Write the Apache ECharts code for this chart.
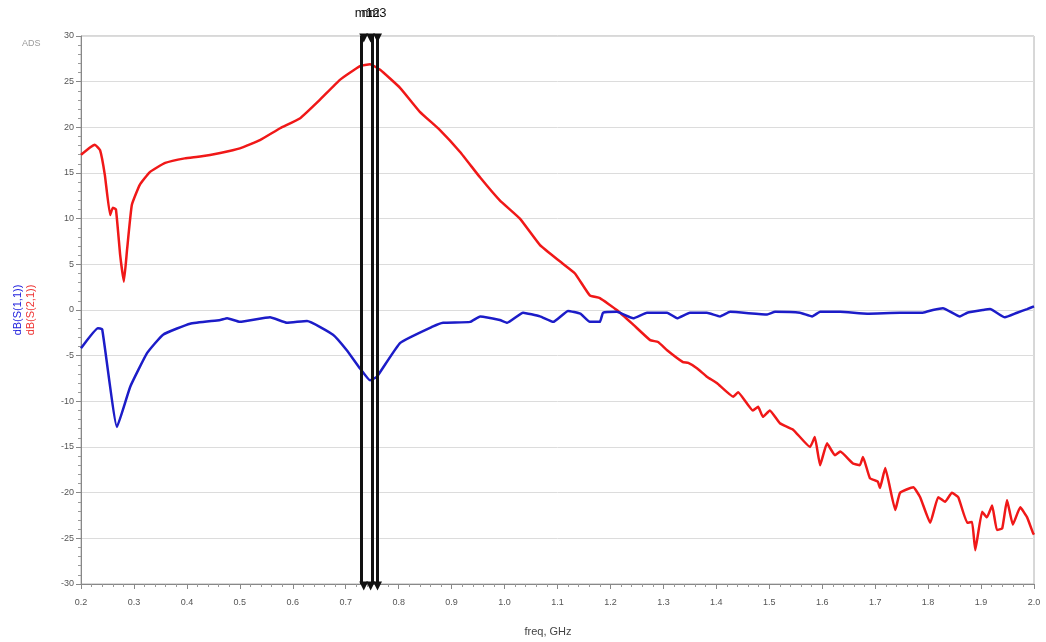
<!DOCTYPE html>
<html>
<head>
<meta charset="utf-8">
<script src="https://cdn.jsdelivr.net/npm/echarts@6/dist/echarts.min.js"></script>
<style>
  html, body { margin: 0; padding: 0; background: #fff; }
  #chart { width: 1046px; height: 642px; }
</style>
</head>
<body>
<div id="chart"></div>
<script>
// S(2,1) trace (red)
const s21Freq = [0.200, 0.217, 0.226, 0.236, 0.245, 0.255, 0.260, 0.266, 0.274, 0.281, 0.287, 0.296, 0.311, 0.330, 0.359, 0.396,
  0.425, 0.463, 0.500, 0.538, 0.576, 0.614, 0.651, 0.689, 0.727, 0.746, 0.765, 0.803, 0.840, 0.878, 0.916, 0.954,
  0.991, 1.029, 1.067, 1.105, 1.133, 1.161, 1.180, 1.212, 1.243, 1.275, 1.290, 1.307, 1.337, 1.347, 1.364, 1.382,
  1.401, 1.432, 1.441, 1.469, 1.479, 1.488, 1.501, 1.520, 1.545, 1.577, 1.586, 1.596, 1.609, 1.624, 1.634, 1.658,
  1.671, 1.677, 1.690, 1.705, 1.709, 1.719, 1.738, 1.747, 1.772, 1.785, 1.804, 1.819, 1.832, 1.845, 1.857, 1.874,
  1.883, 1.889, 1.902, 1.911, 1.921, 1.930, 1.940, 1.949, 1.960, 1.974, 1.987, 1.998, 2.000]
const s21Db = [17.0, 17.8, 18.1, 17.5, 14.8, 10.4, 11.2, 11.0, 6.0, 3.1, 6.6, 11.5, 13.7, 15.1, 16.1, 16.6,
  16.8, 17.2, 17.7, 18.6, 19.9, 21.0, 23.0, 25.2, 26.7, 26.9, 26.3, 24.3, 21.7, 19.7, 17.3, 14.5,
  12.0, 10.0, 7.1, 5.3, 4.0, 1.6, 1.3, 0.0, -1.6, -3.3, -3.5, -4.4, -5.7, -5.8, -6.4, -7.3,
  -8.0, -9.5, -9.0, -11.0, -10.6, -11.7, -11.0, -12.4, -13.1, -15.0, -13.9, -17.0, -14.6, -15.9, -15.5, -16.8,
  -17.0, -16.1, -18.4, -18.8, -19.5, -17.3, -21.9, -20.0, -19.4, -20.5, -23.3, -20.5, -21.0, -20.0, -20.5, -23.3,
  -23.2, -26.3, -22.1, -22.7, -21.4, -24.1, -23.9, -20.8, -23.5, -21.6, -22.7, -24.4, -24.6]

// S(1,1) trace (blue)
const s11Freq = [0.200, 0.232, 0.240, 0.268, 0.293, 0.325, 0.355, 0.406, 0.463, 0.476, 0.500, 0.557, 0.589, 0.627, 0.676, 0.702,
  0.727, 0.746, 0.759, 0.803, 0.865, 0.884, 0.935, 0.954, 0.991, 1.005, 1.035, 1.067, 1.092, 1.120, 1.143, 1.161,
  1.180, 1.186, 1.212, 1.243, 1.269, 1.307, 1.326, 1.350, 1.382, 1.407, 1.426, 1.496, 1.511, 1.558, 1.581, 1.596,
  1.634, 1.685, 1.747, 1.790, 1.809, 1.828, 1.860, 1.874, 1.904, 1.917, 1.945, 1.968, 1.987, 2.000]
const s11Db = [-4.2, -2.0, -2.1, -12.8, -8.4, -4.7, -2.7, -1.5, -1.1, -0.9, -1.3, -0.8, -1.4, -1.2, -2.7, -4.4,
  -6.4, -7.7, -7.3, -3.6, -1.8, -1.4, -1.3, -0.7, -1.1, -1.4, -0.3, -0.7, -1.3, -0.1, -0.4, -1.3,
  -1.3, -0.3, -0.2, -0.9, -0.3, -0.3, -0.9, -0.3, -0.3, -0.7, -0.2, -0.5, -0.2, -0.3, -0.7, -0.2,
  -0.2, -0.4, -0.3, -0.3, 0.0, 0.2, -0.7, -0.3, 0.0, 0.1, -0.8, -0.3, 0.1, 0.4]

// markers m1, m2, m3
const markerNames = ['m1', 'm2', 'm3']
const markerFreq = [0.734, 0.747, 0.760]

const zip = (xs, ys) => xs.map((x, i) => [x, ys[i]])

let chartDom = document.getElementById('chart')
let myChart = echarts.init(chartDom)

let markerLines = markerFreq.map(f => ({ xAxis: f }))
let markerTops = markerFreq.map((f, i) => ({
  coord: [f, 30],
  label: { show: true, formatter: markerNames[i] }
}))
let markerBottoms = markerFreq.map(f => ({ coord: [f, -30] }))

let option = {
  animation: false,
  grid: {
    left: 81,
    right: 12,
    top: 36,
    bottom: 58,
    show: true,
    borderColor: '#b0b0b0',
    borderWidth: 1
  },
  xAxis: {
    type: 'value',
    min: 0.2,
    max: 2.0,
    interval: 0.1,
    axisLine: { onZero: false, lineStyle: { color: '#888' } },
    axisTick: { length: 5, lineStyle: { color: '#888' } },
    minorTick: { show: true, splitNumber: 5, length: 3, lineStyle: { color: '#999' } },
    splitLine: { show: false },
    axisLabel: {
      color: '#555',
      fontSize: 9,
      fontFamily: 'Liberation Sans',
      margin: 14,
      formatter: v => v.toFixed(1)
    }
  },
  yAxis: {
    type: 'value',
    min: -30,
    max: 30,
    interval: 5,
    axisLine: { show: true, lineStyle: { color: '#888' } },
    axisTick: { show: true, length: 5, lineStyle: { color: '#888' } },
    minorTick: { show: true, splitNumber: 5, length: 3, lineStyle: { color: '#999' } },
    splitLine: { lineStyle: { color: '#dcdcdc', width: 1 } },
    axisLabel: { color: '#555', fontSize: 9, fontFamily: 'Liberation Sans', margin: 7 }
  },
  graphic: [
    {
      type: 'text', left: 22, top: 39,
      style: { text: 'ADS', fill: '#9a9a9a', font: '9px Liberation Sans' }
    },
    {
      type: 'text', x: 18, y: 310, rotation: Math.PI / 2,
      style: { text: 'dB(S(1,1))', fill: '#2222dd', font: '11px Liberation Sans', align: 'center', verticalAlign: 'middle' }
    },
    {
      type: 'text', x: 31, y: 310, rotation: Math.PI / 2,
      style: { text: 'dB(S(2,1))', fill: '#ee3333', font: '11px Liberation Sans', align: 'center', verticalAlign: 'middle' }
    },
    {
      type: 'text', x: 548, y: 632,
      style: { text: 'freq, GHz', fill: '#444', font: '11px Liberation Sans', align: 'center', verticalAlign: 'middle' }
    }
  ],
  series: [
    {
      name: 'dB(S(2,1))',
      type: 'line',
      data: zip(s21Freq, s21Db),
      showSymbol: false,
      smooth: 0.12,
      lineStyle: { color: '#f01818', width: 2.5 },
      itemStyle: { color: '#f01818' },
      z: 3
    },
    {
      name: 'dB(S(1,1))',
      type: 'line',
      data: zip(s11Freq, s11Db),
      showSymbol: false,
      smooth: 0.12,
      lineStyle: { color: '#1c1cc8', width: 2.5 },
      itemStyle: { color: '#1c1cc8' },
      z: 4,
      markLine: {
        silent: true,
        symbol: ['none', 'none'],
        label: { show: false },
        lineStyle: { color: '#111', width: 3, type: 'solid' },
        data: markerLines
      },
      markPoint: {
        silent: true,
        data: markerTops.concat(markerBottoms),
        symbol: 'triangle',
        symbolRotate: 180,
        symbolSize: [9, 9],
        symbolOffset: [0, 2],
        itemStyle: { color: '#111' },
        label: {
          show: false,
          position: 'top',
          distance: 14,
          color: '#111',
          fontSize: 13,
          fontFamily: 'Liberation Sans'
        }
      }
    }
  ]
}
myChart.setOption(option)
</script>
</body>
</html>
